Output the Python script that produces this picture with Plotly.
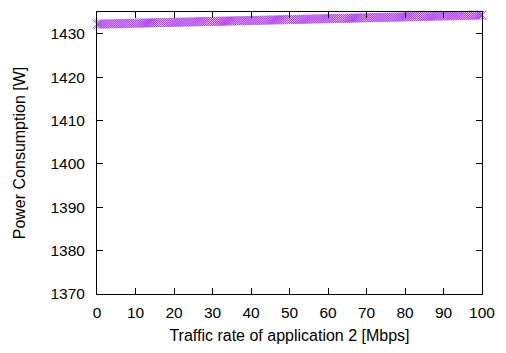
import plotly.graph_objects as go

# traffic rate of application 2 [Mbps], sampled every 0.5 Mbps
rate = [r / 2 for r in range(201)]
power = [
    1432.20, 1432.21, 1432.22, 1432.23, 1432.24, 1432.25, 1432.26, 1432.27, 1432.28, 1432.29,
    1432.31, 1432.32, 1432.33, 1432.34, 1432.35, 1432.36, 1432.37, 1432.38, 1432.39, 1432.40,
    1432.41, 1432.42, 1432.43, 1432.44, 1432.45, 1432.46, 1432.47, 1432.48, 1432.49, 1432.50,
    1432.52, 1432.53, 1432.54, 1432.55, 1432.56, 1432.57, 1432.58, 1432.59, 1432.60, 1432.61,
    1432.62, 1432.63, 1432.64, 1432.65, 1432.66, 1432.67, 1432.68, 1432.69, 1432.70, 1432.71,
    1432.73, 1432.74, 1432.75, 1432.76, 1432.77, 1432.78, 1432.79, 1432.80, 1432.81, 1432.82,
    1432.83, 1432.84, 1432.85, 1432.86, 1432.87, 1432.88, 1432.89, 1432.90, 1432.91, 1432.92,
    1432.94, 1432.95, 1432.96, 1432.97, 1432.98, 1432.99, 1433.00, 1433.01, 1433.02, 1433.03,
    1433.04, 1433.05, 1433.06, 1433.07, 1433.08, 1433.09, 1433.10, 1433.11, 1433.12, 1433.13,
    1433.15, 1433.16, 1433.17, 1433.18, 1433.19, 1433.20, 1433.21, 1433.22, 1433.23, 1433.24,
    1433.25, 1433.26, 1433.27, 1433.28, 1433.29, 1433.30, 1433.31, 1433.32, 1433.33, 1433.34,
    1433.36, 1433.37, 1433.38, 1433.39, 1433.40, 1433.41, 1433.42, 1433.43, 1433.44, 1433.45,
    1433.46, 1433.47, 1433.48, 1433.49, 1433.50, 1433.51, 1433.52, 1433.53, 1433.54, 1433.55,
    1433.57, 1433.58, 1433.59, 1433.60, 1433.61, 1433.62, 1433.63, 1433.64, 1433.65, 1433.66,
    1433.67, 1433.68, 1433.69, 1433.70, 1433.71, 1433.72, 1433.73, 1433.74, 1433.75, 1433.76,
    1433.78, 1433.79, 1433.80, 1433.81, 1433.82, 1433.83, 1433.84, 1433.85, 1433.86, 1433.87,
    1433.88, 1433.89, 1433.90, 1433.91, 1433.92, 1433.93, 1433.94, 1433.95, 1433.96, 1433.97,
    1433.99, 1434.00, 1434.01, 1434.02, 1434.03, 1434.04, 1434.05, 1434.06, 1434.07, 1434.08,
    1434.09, 1434.10, 1434.11, 1434.12, 1434.13, 1434.14, 1434.15, 1434.16, 1434.17, 1434.18,
    1434.20, 1434.21, 1434.22, 1434.23, 1434.24, 1434.25, 1434.26, 1434.27, 1434.28, 1434.29,
    1434.30,
]
x_ticks = [0, 10, 20, 30, 40, 50, 60, 70, 80, 90, 100]
y_ticks = [1370, 1380, 1390, 1400, 1410, 1420, 1430]

FONT = "Liberation Sans, Arial, sans-serif"

fig = go.Figure()
fig.add_trace(go.Scatter(
    x=rate, y=power, mode="markers", cliponaxis=False,
    marker=dict(symbol="x-thin", size=9, line=dict(width=0.8, color="#A020E8"), color="#A020E8"),
    showlegend=False,
))

axis_common = dict(
    showgrid=False, zeroline=False, showline=True, linecolor="black", linewidth=1,
    mirror="ticks", ticks="inside", ticklen=6, tickcolor="black", tickwidth=1,
    tickfont=dict(family=FONT, size=15.5, color="black"),
)

fig.update_layout(
    width=506, height=353,
    margin=dict(l=97, r=19, t=11, b=54),
    paper_bgcolor="white", plot_bgcolor="white",
    font=dict(family=FONT, size=15.5, color="black"),
    xaxis=dict(range=[0, 100], tickvals=x_ticks, ticklabelstandoff=4,
               title=dict(text="Traffic rate of application 2 [Mbps]", standoff=10,
                          font=dict(size=16)), **axis_common),
    yaxis=dict(range=[1370, 1435], tickvals=y_ticks, ticklabelstandoff=8,
               title=dict(text="Power Consumption [W]", standoff=20, font=dict(size=16)),
               **axis_common),
)

fig.write_html("out.html")
